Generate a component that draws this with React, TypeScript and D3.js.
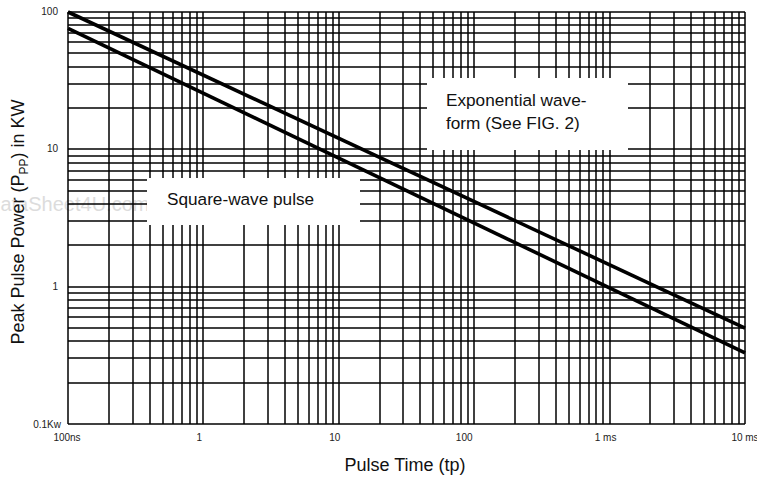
import * as d3 from 'd3';
import React, { useRef, useEffect } from 'react';

// pulse time in microseconds, power in kW
const timeDomain = [0.1, 10000];
const powerDomain = [0.1, 100];

const expTime = [0.1, 10000];
const expPower = [100, 0.5];

const squareTime = [0.1, 10000];
const squarePower = [76, 0.33];

const xTickValues = [0.1, 1, 10, 100, 1000, 10000];
const xTickLabels = ["100ns", "1", "10", "100", "1 ms", "10 ms"];
const yTickValues = [0.1, 1, 10, 100];
const yTickLabels = ["0.1Kw", "1", "10", "100"];

function App(): any {
  const ref = useRef(null);
  const width = 757;
  const height = 477;
  const margin = { top: 12, right: 12, bottom: 53, left: 68 };

  useEffect(() => {
    const svg = d3.select(ref.current);
    svg.selectAll("*").remove();

    const xScale = d3.scaleLog()
      .domain(timeDomain)
      .range([margin.left, width - margin.right]);
    const yScale = d3.scaleLog()
      .domain(powerDomain)
      .range([height - margin.bottom, margin.top]);

    svg.append("rect")
      .attr("width", width).attr("height", height).attr("fill", "white");

    // watermark
    svg.append("text")
      .attr("x", -14).attr("y", 211)
      .attr("font-family", "Arial, 'Liberation Sans', sans-serif")
      .attr("font-size", 20)
      .attr("fill", "#dcdcdc")
      .text("DataSheet4U.com");

    const grid = svg.append("g").attr("class", "grid");

    // every 1..9 per decade
    const xGrid: number[] = [];
    for (let e = -1; e < 4; e++) for (let m = 1; m < 10; m++) xGrid.push(m * Math.pow(10, e));
    xGrid.push(10000);
    const yGrid: number[] = [];
    for (let e = -1; e < 2; e++) for (let m = 1; m < 10; m++) yGrid.push(m * Math.pow(10, e));
    yGrid.push(100);

    grid.selectAll(".vx")
      .data(xGrid)
      .enter()
      .append("line")
      .attr("x1", (d: number) => Math.round(xScale(d)))
      .attr("x2", (d: number) => Math.round(xScale(d)))
      .attr("y1", margin.top)
      .attr("y2", height - margin.bottom)
      .attr("stroke", "#000")
      .attr("stroke-width", 1.5);

    grid.selectAll(".hy")
      .data(yGrid)
      .enter()
      .append("line")
      .attr("y1", (d: number) => Math.round(yScale(d)))
      .attr("y2", (d: number) => Math.round(yScale(d)))
      .attr("x1", margin.left)
      .attr("x2", width - margin.right)
      .attr("stroke", "#000")
      .attr("stroke-width", 1.5);

    const font = "Arial, 'Liberation Sans', Helvetica, sans-serif";

    // label boxes
    svg.append("rect")
      .attr("x", 427).attr("y", 78).attr("width", 201).attr("height", 72)
      .attr("fill", "white");
    svg.append("rect")
      .attr("x", 147).attr("y", 178).attr("width", 213).attr("height", 47)
      .attr("fill", "white");

    const expText = svg.append("text")
      .attr("font-family", font).attr("font-size", 17.2).attr("fill", "#111");
    expText.append("tspan").attr("x", 446).attr("y", 106).text("Exponential wave-");
    expText.append("tspan").attr("x", 446).attr("y", 129).text("form (See FIG. 2)");

    svg.append("text")
      .attr("x", 167).attr("y", 205)
      .attr("font-family", font).attr("font-size", 17.2).attr("fill", "#111")
      .text("Square-wave pulse");

    const line = d3.line<[number, number]>()
      .x((d) => xScale(d[0]))
      .y((d) => yScale(d[1]));

    const series = [
      expTime.map((t, i) => [t, expPower[i]] as [number, number]),
      squareTime.map((t, i) => [t, squarePower[i]] as [number, number]),
    ];

    svg.selectAll(".curve")
      .data(series)
      .enter()
      .append("path")
      .attr("d", (d: any) => line(d))
      .attr("fill", "none")
      .attr("stroke", "#000")
      .attr("stroke-width", 3.6);

    // tick labels
    svg.selectAll(".xl")
      .data(xTickValues)
      .enter()
      .append("text")
      .attr("x", (d: number, i: number) => xScale(d) + (i === 0 ? -1 : i === 5 ? 0 : i === 3 ? -10 : -4))
      .attr("y", 441)
      .attr("text-anchor", "middle")
      .attr("font-family", font)
      .attr("font-size", 10)
      .attr("fill", "#222")
      .text((d: number, i: number) => xTickLabels[i]);

    svg.selectAll(".yl")
      .data(yTickValues)
      .enter()
      .append("text")
      .attr("x", (d: number, i: number) => (i === 0 ? 61 : 58))
      .attr("y", (d: number, i: number) => yScale(d) + (i === 0 ? 4 : 3))
      .attr("text-anchor", "end")
      .attr("font-family", font)
      .attr("font-size", 10)
      .attr("fill", "#222")
      .text((d: number, i: number) => yTickLabels[i]);

    // axis titles
    svg.append("text")
      .attr("x", 405).attr("y", 471)
      .attr("text-anchor", "middle")
      .attr("font-family", font).attr("font-size", 18).attr("fill", "#111")
      .text("Pulse Time (tp)");

    const yTitle = svg.append("text")
      .attr("transform", "translate(24," + 222 + ") rotate(-90)")
      .attr("text-anchor", "middle")
      .attr("font-family", font).attr("font-size", 18).attr("fill", "#111");
    yTitle.append("tspan").text("Peak Pulse Power (P");
    yTitle.append("tspan").attr("font-size", 12).attr("dy", 4).text("PP");
    yTitle.append("tspan").attr("dy", -4).text(") in KW");
  }, []);

  return (
    <svg
      ref={ref}
      width={width}
      height={height}
      style={{ position: "absolute", left: 0, top: 0, display: "block" }}
    />
  );
}

export default App;
